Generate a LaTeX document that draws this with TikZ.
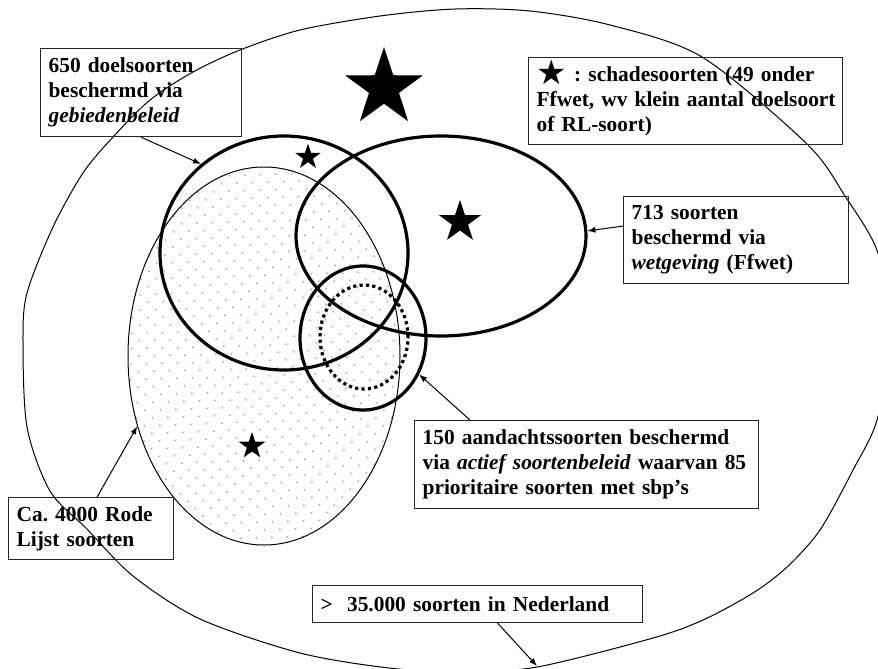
\documentclass[tikz,border=0pt]{standalone}
\usepackage{fontspec}
\setmainfont{Liberation Serif}
\newfontfamily\symfont{DejaVu Sans}
\usetikzlibrary{shapes.geometric,arrows.meta,patterns.meta,positioning}

\begin{document}
\begin{tikzpicture}[x=0.5pt, y=-0.5pt,
    txtbox/.style={draw=black!85, line width=0.6pt, anchor=north west, inner xsep=4pt, inner ysep=0pt,
      align=left, font=\fontsize{10.7}{12.5}\selectfont\bfseries\frenchspacing},
    ring/.style={ellipse, draw, line width=1.6pt, inner sep=0pt},
    schade/.style={star, star points=5, star point ratio=2.6, fill, inner sep=0pt},
    pijl/.style={-{Latex[length=4pt,width=3pt]}, line width=0.5pt}]
    \useasboundingbox (0,0) rectangle (878,669);

    % Rode Lijst (gestippeld)
    \node[ellipse, draw, line width=0.5pt, inner sep=0pt, minimum width=136pt, minimum height=189pt,
      pattern={Dots[distance=5.4pt, angle=45, radius=0.55pt]}, pattern color=gray!65] (rode) at (264,356) {};

    % alle soorten in Nederland
    \draw[line width=0.5pt] plot[smooth cycle] coordinates {
      (23,341) (27,293) (53,227) (83,173) (113,137) (150,100) (193,72) (240,50) (300,30) (380,16)
      (455,9) (530,11) (610,25) (702,57) (807,144) (845,196) (878,253) (892,335) (877,420)
      (853,470) (820,530) (787,567) (753,593) (703,620) (653,638) (537,667) (460,672) (389,668)
      (300,653) (200,619) (133,576) (87,529) (50,491) (27,427)};
    \coordinate (rim) at (537,666);

    \node[ring, minimum width=124pt, minimum height=117pt] (gebied) at (284,253) {};
    \node[ring, minimum width=145pt, minimum height=100pt] (wet) at (441,236) {};
    \node[ring, minimum width=63pt, minimum height=72pt] (aandacht) at (363,338) {};
    \node[ring, dash pattern=on 1.6pt off 1.6pt, minimum width=44pt, minimum height=52pt] (prio) at (364,337) {};

    \node[schade, minimum size=41pt] (s1) at (384,88) {};
    \node[schade, minimum size=13.5pt] (s2) at (308,157) {};
    \node[schade, minimum size=22pt] (s3) at (460,222) {};
    \node[schade, minimum size=14pt] (s4) at (252,446) {};

    \node[txtbox, text width=92.5pt, minimum height=44pt] (doel) at (40,48)
      {650 doelsoorten\\beschermd via\\\textit{gebiedenbeleid}};
    \node[txtbox, text width=149pt, minimum height=43.5pt] (legenda) at (528,57)
      {\mbox{\smash{\raisebox{-1.5pt}{\symfont\fontsize{17}{17}\selectfont ★}} : schadesoorten (49 onder}\\
       \mbox{Ffwet, wv klein aantal doelsoort}\\of RL-soort)};
    \node[txtbox, text width=104.5pt, minimum height=43.5pt] (wetbox) at (623,196)
      {713 soorten\\beschermd via\\\textit{wetgeving} (Ffwet)};
    \node[txtbox, text width=164pt, minimum height=44pt] (abox) at (414,420)
      {\mbox{150 aandachtssoorten beschermd}\\\mbox{via \textit{actief soortenbeleid} waarvan 85}\\prioritaire soorten met sbp’s};
    \node[txtbox, text width=74.5pt, minimum height=31pt] (rbox) at (8,497)
      {Ca. 4000 Rode\\Lijst soorten};
    \node[txtbox, text width=157pt, minimum height=18.5pt] (nlbox) at (312,585)
      {>\ \ 35.000 soorten in Nederland};

    \draw[pijl] (doel.south) -- (gebied.133);
    \draw[pijl] ([yshift=7pt]wetbox.west) -- (wet.2);
    \draw[pijl] ([xshift=28pt]abox.north west) -- (aandacht.-33);
    \draw[pijl] ([xshift=3pt]rbox.north) -- (rode.209);
    \draw[pijl] ([xshift=10pt]nlbox.south) -- (rim);
\end{tikzpicture}
\end{document}
